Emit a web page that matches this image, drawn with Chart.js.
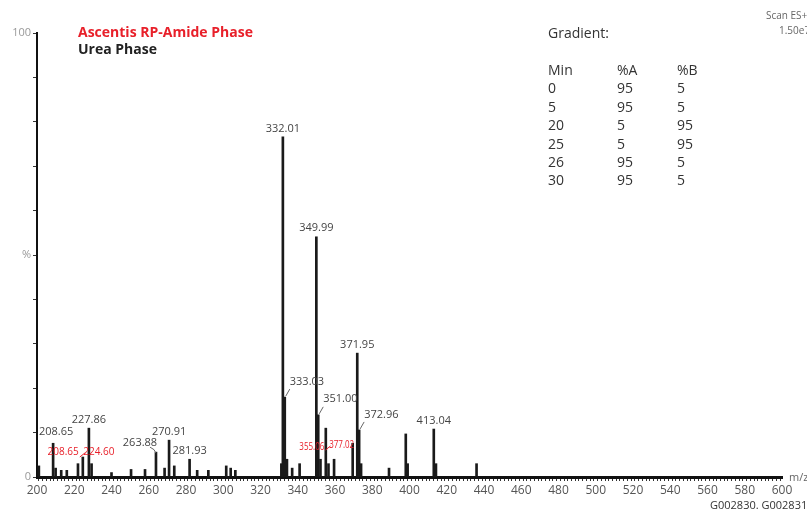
<!DOCTYPE html>
<html>
<head>
<meta charset="utf-8">
<script src="https://cdn.jsdelivr.net/npm/chart.js@4.4.0/dist/chart.umd.min.js"></script>
<style>
  body { margin: 0; width: 807px; height: 513px; overflow: hidden; background: #fff; font-family: "Open Sans", sans-serif; position: relative; }
  canvas { position: absolute; left: 0; top: 0; }
  .txt { position: absolute; white-space: nowrap; line-height: 1; }
  .title { font-weight: bold; font-size: 14px; left: 78px; }
  .grad { font-size: 14px; color: #333; }
</style>
</head>
<body>
<canvas id="spectrum" width="807" height="513"></canvas>
<div class="txt title" style="top:25px;color:#e8202a;">Ascentis RP-Amide Phase</div>
<div class="txt title" style="top:42px;color:#222;">Urea Phase</div>
<div class="txt grad" style="left:548px;top:26px;">Gradient:</div>
<div id="gradTable"></div>
<div class="txt" style="left:766px;top:10px;font-size:10px;color:#666;">Scan ES+</div>
<div class="txt" style="left:779px;top:25px;font-size:10px;color:#666;">1.50e7</div>
<div class="txt" style="left:789px;top:471px;font-size:11px;color:#666;">m/z</div>
<div class="txt" style="left:710px;top:499px;font-size:11px;color:#333;">G002830. G002831</div>
<script>
// Spectrum peaks (m/z, relative intensity %)
const mz = [201, 208.65, 210, 213, 216, 222.0, 224.6, 227.86, 229.3, 240, 250.5, 258, 263.88, 268.5, 270.91, 273.7,
  281.93, 286, 292, 301.6, 304, 306.5, 331.2, 332.01, 333.03, 334.2, 337, 341, 349.99, 351.0, 352.2, 355.06, 356.5,
  359.5, 369.5, 371.95, 372.96, 374, 389, 398, 399, 413.04, 414.2, 436];
const intensity = [2.5, 7.6, 2, 1.5, 1.5, 3, 4.5, 11, 3, 1, 1.7, 1.7, 5.6, 2, 8.3, 2.5,
  4, 1.5, 1.5, 2.5, 2, 1.5, 3, 76.6, 18, 4, 2, 3, 54.1, 14, 4, 11, 3,
  4, 7.6, 27.9, 10.6, 3, 2, 9.7, 3, 10.8, 3, 3];

// Labelled peaks (black = urea phase)
const labelMz = [208.65, 227.86, 263.88, 270.91, 281.93, 332.01, 333.03, 349.99, 351.00, 371.95, 372.96, 413.04];
const labelText = ["208.65", "227.86", "263.88", "270.91", "281.93", "332.01", "333.03", "349.99", "351.00", "371.95", "372.96", "413.04"];
// Labels from the RP-Amide trace (red)
const redLabelMz = [208.65, 224.60, 355.06, 377.02];
const redLabelText = ["208.65", "224.60", "355.06", "377.02"];

// Gradient table
const gradMin = ["0", "5", "20", "25", "26", "30"];
const gradA = ["95", "95", "5", "5", "95", "95"];
const gradB = ["5", "5", "95", "95", "5", "5"];

// build gradient table as text
const gt = document.getElementById("gradTable");
const rows = [["Min", "%A", "%B"]].concat(gradMin.map((m, i) => [m, gradA[i], gradB[i]]));
rows.forEach((r, i) => {
  [548, 617, 677].forEach((x, j) => {
    const d = document.createElement("div");
    d.className = "txt grad";
    d.style.left = x + "px";
    d.style.top = (63 + i * 18.4) + "px";
    d.textContent = r[j];
    gt.appendChild(d);
  });
});

// label placement: dx/dy offsets in px relative to the peak top
const labelStyle = {
  "208.65": { dx: 3, dy: -6 },
  "263.88": { dx: -16, dy: -4, curve: true },
  "333.03": { left: true },
  "351.00": { left: true },
  "372.96": { left: true }
};
// red labels: offsets relative to the peak on the baseline
const redStyle = {
  "208.65": { dx: 10, dy: 0, w: 1 },
  "224.60": { dx: 16, dy: 0, w: 1, leader: true },
  "355.06": { dx: -14, dy: -5, w: 0.8 },
  "377.02": { dx: -25, dy: -7, w: 0.8, leader: true }
};

const peakLabels = {
  id: "peakLabels",
  afterDatasetsDraw(chart) {
    const { ctx, scales: { x, y } } = chart;
    ctx.save();
    ctx.font = "11px 'Open Sans', sans-serif";
    ctx.textBaseline = "bottom";
    labelMz.forEach((m, i) => {
      const idx = mz.indexOf(m);
      const px = x.getPixelForValue(m);
      const py = y.getPixelForValue(intensity[idx]);
      const st = labelStyle[labelText[i]] || { dx: 0, dy: -3 };
      ctx.fillStyle = "#444";
      ctx.strokeStyle = "#666";
      ctx.lineWidth = 1;
      if (st.left) {
        ctx.textAlign = "left";
        ctx.fillText(labelText[i], px + 5, py - 10);
        ctx.beginPath();
        ctx.moveTo(px + 1, py - 1);
        ctx.lineTo(px + 5, py - 8);
        ctx.stroke();
      } else {
        ctx.textAlign = "center";
        ctx.fillText(labelText[i], px + st.dx, py + st.dy);
        if (st.curve) {
          ctx.beginPath();
          ctx.moveTo(px - 6, py - 5);
          ctx.quadraticCurveTo(px - 1, py - 3, px, py + 1);
          ctx.stroke();
        }
      }
    });
    ctx.fillStyle = "#e8202a";
    ctx.strokeStyle = "#e8202a";
    ctx.font = "10px 'Open Sans', sans-serif";
    const base = y.getPixelForValue(0);
    redLabelMz.forEach((m, i) => {
      const px = x.getPixelForValue(m);
      const st = redStyle[redLabelText[i]];
      const ty = base - 20 + st.dy;
      ctx.save();
      ctx.translate(px + st.dx, ty);
      ctx.scale(st.w, 1);
      ctx.textAlign = "center";
      ctx.fillText(redLabelText[i], 0, 0);
      ctx.restore();
      if (st.leader) {
        const lx = px + st.dx - 14 * st.w;
        ctx.beginPath();
        ctx.moveTo(lx, ty - 4);
        ctx.lineTo(lx - 5, ty);
        ctx.stroke();
      }
    });
    ctx.restore();
  }
};

new Chart(document.getElementById("spectrum"), {
  type: "bar",
  data: {
    datasets: [{
      data: mz.map((m, i) => ({ x: m, y: intensity[i] })),
      backgroundColor: "#1a1a1a",
      borderWidth: 0,
      barThickness: 2,
      grouped: false
    }]
  },
  options: {
    responsive: false,
    animation: false,
    devicePixelRatio: 1,
    layout: { padding: { top: 33, right: 25, left: 0, bottom: 0 } },
    plugins: { legend: { display: false }, tooltip: { enabled: false } },
    scales: {
      x: {
        type: "linear",
        min: 200,
        max: 600,
        offset: false,
        afterFit: s => { s.height = 36; },
        border: { color: "#111", width: 3 },
        grid: { drawOnChartArea: false, drawTicks: true, tickLength: 4, color: "#333", lineWidth: 1 },
        ticks: {
          stepSize: 2,
          autoSkip: false,
          maxRotation: 0,
          padding: 2,
          color: "#555",
          font: { family: "'Open Sans', sans-serif", size: 12 },
          callback: v => (v % 20 === 0 ? String(v) : "")
        }
      },
      y: {
        min: 0,
        max: 100,
        afterFit: s => { s.width = 37; },
        border: { color: "#111", width: 2 },
        grid: { drawOnChartArea: false, drawTicks: true, tickLength: 4, color: "#333" },
        ticks: {
          stepSize: 10,
          autoSkip: false,
          padding: 2,
          color: "#999",
          font: { family: "'Open Sans', sans-serif", size: 11 },
          callback: v => (v === 100 ? "100" : v === 50 ? "%" : v === 0 ? "0" : "")
        }
      }
    }
  },
  plugins: [peakLabels]
});
</script>
</body>
</html>
